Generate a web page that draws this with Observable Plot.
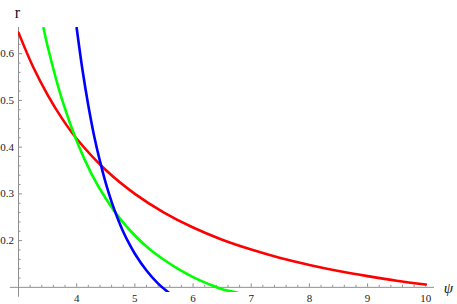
<!DOCTYPE html>
<html>
<head>
<meta charset="utf-8">
<script src="https://cdn.jsdelivr.net/npm/d3@7"></script>
<script src="https://cdn.jsdelivr.net/npm/@observablehq/plot@0.6"></script>
<style>
  html, body { margin: 0; padding: 0; background: #fff; }
  svg { display: block; }
  svg text { font-family: "Liberation Serif", "Times New Roman", serif; }
</style>
</head>
<body>
<div id="chart"></div>
<script>
// Red curve
const redPsi = [3, 3.25, 3.5, 3.75, 4, 4.5, 5, 5.5, 6, 6.5, 7, 7.5, 8, 8.5, 9, 9.5, 10];
const redR   = [0.645, 0.572, 0.512, 0.461, 0.418, 0.351, 0.300, 0.260, 0.228, 0.202, 0.181, 0.163, 0.148, 0.135, 0.124, 0.114, 0.106];
// Green curve
const greenPsi = [3.43, 3.5, 3.75, 4, 4.25, 4.5, 4.75, 5, 5.25, 5.5, 5.75, 6, 6.25, 6.5, 6.76];
const greenR   = [0.655, 0.616, 0.501, 0.413, 0.344, 0.290, 0.246, 0.211, 0.182, 0.159, 0.139, 0.122, 0.108, 0.096, 0.089];
// Blue curve
const bluePsi = [4.0, 4.1, 4.2, 4.3, 4.4, 4.5, 4.6, 4.7, 4.8, 4.9, 5.0, 5.2, 5.4, 5.58];
const blueR   = [0.655, 0.565, 0.489, 0.424, 0.370, 0.323, 0.283, 0.249, 0.219, 0.194, 0.172, 0.136, 0.108, 0.089];

// Axis ticks
const xTickLabels = [4, 5, 6, 7, 8, 9, 10];
const yTickLabels = [0.2, 0.3, 0.4, 0.5, 0.6];
const xMinor = d3.range(16, 51).map(i => i / 5).filter(v => v > 3 && Math.abs(v - Math.round(v)) > 1e-6);
const yMinor = d3.range(6, 33).map(i => i / 50).filter(v => v > 0.1 && Math.abs(v * 10 - Math.round(v * 10)) > 1e-6);

const toRows = (xs, ys, name) => xs.map((x, i) => ({psi: x, r: ys[i], series: name}));
const red = toRows(redPsi, redR, "red");
const green = toRows(greenPsi, greenR, "green");
const blue = toRows(bluePsi, blueR, "blue");

const serif = "Liberation Serif, Times New Roman, serif";
const axisColor = "#8f8f8f";
const xOrigin = 3, yOrigin = 0.1;
const pxX = 58.2, pxY = 467.4; // approx pixel per unit, for tick lengths

const chart = Plot.plot({
  width: 457,
  height: 304,
  marginLeft: 18,
  marginRight: 23,
  marginTop: 27,
  marginBottom: 12,
  style: {fontFamily: serif, background: "#fff"},
  x: {domain: [3, 10.15], axis: null},
  y: {domain: [0.089, 0.656], axis: null},
  marks: [
    // axes lines
    Plot.ruleY([yOrigin], {x1: 2.86, x2: 10.15, stroke: axisColor, strokeWidth: 1}),
    Plot.ruleX([xOrigin], {y1: 0.079, y2: 0.656, stroke: axisColor, strokeWidth: 1}),
    // x ticks
    Plot.ruleX(xTickLabels, {x: d => d, y1: yOrigin, y2: yOrigin + 3.5 / pxY, stroke: axisColor}),
    Plot.ruleX(xMinor, {x: d => d, y1: yOrigin, y2: yOrigin + 2 / pxY, stroke: axisColor}),
    // y ticks
    Plot.ruleY(yTickLabels, {y: d => d, x1: xOrigin, x2: xOrigin + 4 / pxX, stroke: axisColor}),
    Plot.ruleY(yMinor, {y: d => d, x1: xOrigin, x2: xOrigin + 2.5 / pxX, stroke: axisColor}),
    // tick labels
    Plot.text(xTickLabels, {x: d => d, y: yOrigin, text: d => String(d), dy: 11, fontSize: 11, fontFamily: serif, fill: "#222", lineAnchor: "middle"}),
    Plot.text(yTickLabels, {x: xOrigin, y: d => d, text: d => d.toFixed(1), dx: -4.5, textAnchor: "end", fontSize: 11, fontFamily: serif, fill: "#222"}),
    // axis labels
    Plot.text(["r"], {x: xOrigin, y: 0.656, text: d => d, dx: -1, dy: -15, fontSize: 16, fontFamily: serif, fill: "#111"}),
    Plot.text(["ψ"], {x: 10.15, y: yOrigin, text: d => d, dx: 14, dy: 1, fontSize: 15, fontFamily: serif, fontStyle: "italic", fill: "#111"}),
    // curves
    Plot.line(red, {x: "psi", y: "r", stroke: "#ff0000", strokeWidth: 2.6, curve: "catmull-rom", clip: true}),
    Plot.line(green, {x: "psi", y: "r", stroke: "#00ff00", strokeWidth: 2.6, curve: "catmull-rom", clip: true}),
    Plot.line(blue, {x: "psi", y: "r", stroke: "#0000ff", strokeWidth: 2.6, curve: "catmull-rom", clip: true})
  ]
});
document.getElementById("chart").appendChild(chart);
</script>
</body>
</html>
